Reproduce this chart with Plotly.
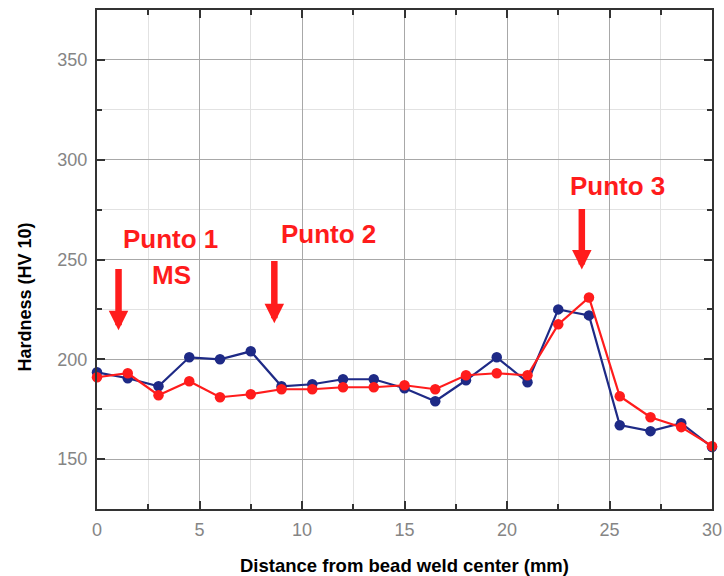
import plotly.graph_objects as go

distance_mm = [0, 1.5, 3, 4.5, 6, 7.5, 9, 10.5, 12, 13.5, 15, 16.5, 18, 19.5, 21, 22.5, 24, 25.5, 27, 28.5, 30]
hardness_blue = [193.5, 190.5, 186.5, 201, 200, 204, 186.5, 187.5, 190, 190, 185.5, 179, 189.5, 201, 188.5, 225, 222, 167, 164, 168, 156]
hardness_red = [191, 193, 182, 189, 181, 182.5, 185, 185, 186, 186, 187, 185, 192, 193, 192, 217.5, 231, 181.5, 171, 166, 156.5]

x_ticks = [0, 5, 10, 15, 20, 25, 30]
y_ticks = [150, 200, 250, 300, 350]

labels = ["Punto 1", "MS", "Punto 2", "Punto 3"]
label_x = [3.6, 3.65, 11.3, 25.4]
label_y = [260.5, 242, 263, 287]

arrow_x = [1.05, 8.65, 23.65]
arrow_tail_y = [246, 250, 276]
arrow_head_y = [214.5, 218, 245]

BLUE = "#1e2a86"
RED = "#ff1c1c"

fig = go.Figure()
fig.add_trace(go.Scatter(x=distance_mm, y=hardness_blue, mode="lines+markers",
                         line=dict(color=BLUE, width=2.2),
                         marker=dict(color=BLUE, size=10.5), showlegend=False, cliponaxis=False))
fig.add_trace(go.Scatter(x=distance_mm, y=hardness_red, mode="lines+markers",
                         line=dict(color=RED, width=2.2),
                         marker=dict(color=RED, size=10.5), showlegend=False, cliponaxis=False))

for t, xx, yy in zip(labels, label_x, label_y):
    fig.add_annotation(x=xx, y=yy, xref="x", yref="y", text="<b>" + t + "</b>", showarrow=False,
                       font=dict(family="Liberation Sans, Arial", size=26, color=RED))

for xx, y0, y1 in zip(arrow_x, arrow_tail_y, arrow_head_y):
    fig.add_annotation(x=xx, y=y1, ax=xx, ay=y0, xref="x", yref="y", axref="x", ayref="y",
                       text="", showarrow=True, arrowhead=2, arrowsize=0.6,
                       arrowwidth=6.5, arrowcolor=RED)

fig.add_annotation(x=-0.117, y=0.424, xref="paper", yref="paper", xanchor="center", yanchor="middle",
                   text="<b>Hardness (HV 10)</b>", textangle=-90, showarrow=False,
                   font=dict(family="Liberation Sans, Arial", size=18, color="black"))

axis_common = dict(showline=True, linecolor="#333333", linewidth=2, mirror="ticks",
                   ticks="inside", ticklen=8, tickwidth=2, tickcolor="#333333",
                   showgrid=True, gridcolor="#a8a8a8", gridwidth=1.2,
                   zeroline=False, automargin=False,
                   tickfont=dict(family="Liberation Sans, Arial", size=18, color="#858585"))

fig.update_xaxes(range=[0, 30], tickvals=x_ticks, ticktext=[str(v) for v in x_ticks],
                 ticklabelstandoff=3,
                 minor=dict(dtick=2.5, tick0=0, ticks="inside", ticklen=5, tickwidth=1.5,
                            tickcolor="#333333", showgrid=True, gridcolor="#e2e2e2", gridwidth=1),
                 title=dict(text="<b>Distance from bead weld center (mm)</b>", standoff=20,
                            font=dict(family="Liberation Sans, Arial", size=18.5, color="black")),
                 **axis_common)
fig.update_yaxes(range=[125, 375], tickvals=y_ticks, ticktext=[str(v) for v in y_ticks],
                 ticklabelstandoff=4,
                 minor=dict(dtick=25, tick0=0, ticks="inside", ticklen=5, tickwidth=1.5,
                            tickcolor="#333333", showgrid=True, gridcolor="#e2e2e2", gridwidth=1),
                 **axis_common)

fig.update_layout(width=724, height=576, margin=dict(l=97, r=12, t=10, b=67),
                  plot_bgcolor="white", paper_bgcolor="white")

fig.write_html("out.html", config={"displayModeBar": False},
               post_script="document.body.style.margin='0';document.body.style.overflow='hidden';")
